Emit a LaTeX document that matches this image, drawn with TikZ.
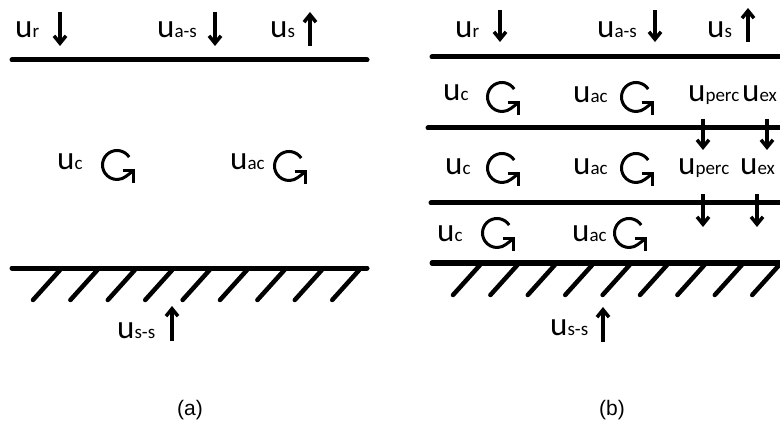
\documentclass[tikz,border=0pt]{standalone}
\usepackage{fontspec}
\setmainfont{Carlito}
\newfontfamily\arialf{Liberation Sans}
\usetikzlibrary{arrows.meta,calc}
\newcommand\ulab[1]{{\fontsize{33}{33}\selectfont u\fontsize{19}{19}\selectfont #1}}
\newcommand\rotarrow[2]{%
  \draw[rotline] ($(#1,#2)+(33:14.5pt)$) arc[start angle=33,end angle=308,radius=14.5pt] -- ({#1+16},{#2+6});
  \draw[rotline] ({#1+5.5},{#2+6}) -- ({#1+16.5},{#2+6}) -- ({#1+16.5},{#2+18});}
\begin{document}
\begin{tikzpicture}[x=1pt,y=-1pt,
  lbl/.style={anchor=base west, inner sep=0pt},
  bar/.style={line width=5pt, line cap=round},
  hatch/.style={line width=4.5pt, line cap=round},
  varrow/.style={line width=3.5pt, -{Straight Barb[angle=78:9.5pt]}},
  rotline/.style={line width=3pt, line join=miter},
  capt/.style={font=\arialf\fontsize{21}{21}\selectfont, inner sep=0pt}]
\useasboundingbox (0,0) rectangle (780,433);
\clip (0,0) rectangle (780,433);
% ---------------- panel (a)
\node[lbl] (ar) at (15,38) {\ulab{r}};
\draw[varrow] (60,12) -- (60,46);
\node[lbl] (aas) at (157,38) {\ulab{a-s}};
\draw[varrow] (215,12) -- (215,46);
\node[lbl] (as) at (270,38) {\ulab{s}};
\draw[varrow] (310,46) -- (310,12);
\draw[bar] (12,60) -- (367,60);
\node[lbl] (ac) at (57,170) {\ulab{c}};
\rotarrow{117}{165}
\node[lbl] (aac) at (230,170) {\ulab{ac}};
\rotarrow{289}{166}
\draw[bar] (12,268) -- (367,268);
\foreach \i in {0,...,8} \draw[hatch] ({33+37.4*\i},300) -- ({60+37.4*\i},270);
\node[lbl] (ass) at (117,338) {\ulab{s-s}};
\draw[varrow] (172,341) -- (172,306);
\node[capt] (capa) at (190,410) {(a)};
% ---------------- panel (b)
\node[lbl] (br) at (455,38) {\ulab{r}};
\draw[varrow] (500,10) -- (500,42);
\node[lbl] (bas) at (597,38) {\ulab{a-s}};
\draw[varrow] (655,10) -- (655,42);
\node[lbl] (bs) at (707,38) {\ulab{s}};
\draw[varrow] (748,42) -- (748,8);
\draw[bar] (432,57) -- (790,57);
% row 2
\node[lbl] (bc1) at (443,101) {\ulab{c}};
\rotarrow{502}{97}
\node[lbl] (bac1) at (573,103) {\ulab{ac}};
\rotarrow{636}{97}
\node[lbl] (bp1) at (688,102) {\ulab{perc}};
\node[lbl] (bex1) at (742,102) {\ulab{ex}};
\draw[bar] (428,128) -- (790,128);
\draw[varrow] (703,119) -- (703,150);
\draw[varrow] (767,119) -- (767,150);
% row 3
\node[lbl] (bc2) at (445,175) {\ulab{c}};
\rotarrow{502}{168}
\node[lbl] (bac2) at (573,175) {\ulab{ac}};
\rotarrow{636}{168}
\node[lbl] (bp2) at (678,175) {\ulab{perc}};
\node[lbl] (bex2) at (740,175) {\ulab{ex}};
\draw[bar] (431,203) -- (790,203);
\draw[varrow] (703,194) -- (703,227);
\draw[varrow] (757,194) -- (757,227);
% row 4
\node[lbl] (bc3) at (437,242) {\ulab{c}};
\rotarrow{497}{233}
\node[lbl] (bac3) at (572,242) {\ulab{ac}};
\rotarrow{629}{233}
\draw[bar] (432,263) -- (790,263);
\foreach \i in {0,...,9} \draw[hatch] ({453+37.4*\i},295) -- ({480+37.4*\i},265);
\node[lbl] (bss) at (550,335) {\ulab{s-s}};
\draw[varrow] (603,342) -- (603,307);
\node[capt] (capb) at (612,410) {(b)};
\end{tikzpicture}
\end{document}
